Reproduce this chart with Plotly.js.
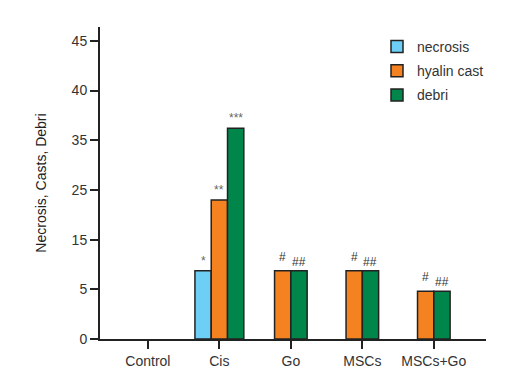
<!DOCTYPE html>
<html><head><meta charset="utf-8">
<script src="https://cdn.plot.ly/plotly-3.0.1.min.js"></script>
<style>html,body{margin:0;padding:0;background:#fff}#chart{width:509px;height:372px}</style>
</head><body><div id="chart"></div>
<script>
// Groups on the x axis
const categories = ["Control", "Cis", "Go", "MSCs", "MSCs+Go"];
// Series values (read in the chart's drawn axis units)
const necrosis   = [0, 10.3, 0, 0, 0];
const hyalinCast = [0, 21.0, 10.3, 10.3, 7.2];
const debri      = [0, 31.8, 10.3, 10.3, 7.2];
// Significance marks above each bar
const sigNecrosis = ["", "*", "", "", ""];
const sigHyalin   = ["", "**", "#", "#", "#"];
const sigDebri    = ["", "***", "##", "##", "##"];
// Y tick labels as printed on the chart
const yTickText = ["0", "5", "15", "25", "35", "40", "45"];

const seriesNames = ["necrosis", "hyalin cast", "debri"];
const seriesVals = [necrosis, hyalinCast, debri];
const seriesSig = [sigNecrosis, sigHyalin, sigDebri];
const colors = ["#6dcff6", "#f58220", "#00854a"];
const W = 0.228;
const xIdx = categories.map((c, i) => i);

// compute offsets: non-zero bars in each group are centred on the tick
const offsets = seriesVals.map(() => []);
categories.forEach((c, i) => {
  const present = seriesVals.map(v => v[i] > 0);
  const n = present.filter(Boolean).length;
  let k = 0;
  seriesVals.forEach((v, s) => {
    if (present[s]) { offsets[s][i] = -n * W / 2 + k * W; k++; }
    else offsets[s][i] = 0;
  });
});

const traces = seriesVals.map((vals, s) => ({
  type: "bar",
  name: seriesNames[s],
  legendgroup: "g" + s,
  x: xIdx,
  y: vals.map(v => v > 0 ? v : null),
  width: W,
  offset: offsets[s],
  marker: { color: colors[s], line: { color: "#222", width: 1.5 } },
  hoverinfo: "skip"
}));

const annotations = [];
seriesSig.forEach((sig, s) => {
  sig.forEach((t, i) => {
    if (!t) return;
    const isStar = t.indexOf("*") >= 0;
    let yshift = isStar ? 1 : (s === 1 ? 5 : 0);
    annotations.push({
      x: xIdx[i] + offsets[s][i] + W / 2, y: seriesVals[s][i],
      xref: "x", yref: "y", text: t, showarrow: false,
      yanchor: "bottom", xanchor: "center", yshift: yshift,
      font: { family: "Liberation Sans, Arial", size: 12, color: isStar ? "#666" : "#333" }
    });
  });
});

const layout = {
  width: 509, height: 372,
  margin: { l: 100, r: 23, t: 27, b: 33 },
  paper_bgcolor: "#fff", plot_bgcolor: "#fff",
  barmode: "overlay",
  showlegend: true,
  legend: {
    xref: "paper",
    yanchor: "top",
    font: { family: "Liberation Sans, Arial", size: 14, color: "#333" },
    tracegroupgap: 3,
    bgcolor: "rgba(0,0,0,0)",
    traceorder: "grouped"
  },
  font: { family: "Liberation Sans, Arial", size: 14, color: "#333" },
  xaxis: {
    range: [-0.67, 4.73],
    tickvals: xIdx, ticktext: categories,
    showgrid: false, zeroline: false,
    showline: true, linecolor: "#222", linewidth: 2,
    ticks: "outside", ticklen: 8, tickwidth: 2, tickcolor: "#222",
    tickfont: { size: 14, color: "#333" }
  },
  yaxis: {
    range: [0, 47.1],
    tickvals: yTickText.map((t, i) => i * 7.5), ticktext: yTickText,
    showgrid: false, zeroline: false,
    showline: true, linecolor: "#222", linewidth: 2,
    ticks: "outside", ticklen: 8, tickwidth: 2, tickcolor: "#222",
    tickfont: { size: 14, color: "#333" },
    title: { text: "Necrosis, Casts, Debri", font: { size: 14, color: "#222" }, standoff: 22 }
  },
  annotations: annotations
};
// legend position in paper fractions
layout.legend.x = (377 - 100) / (509 - 100 - 23);
layout.legend.y = 1 - 4 / 312;

Plotly.newPlot("chart", traces, layout, { displayModeBar: false, staticPlot: true });
</script>
</body></html>
